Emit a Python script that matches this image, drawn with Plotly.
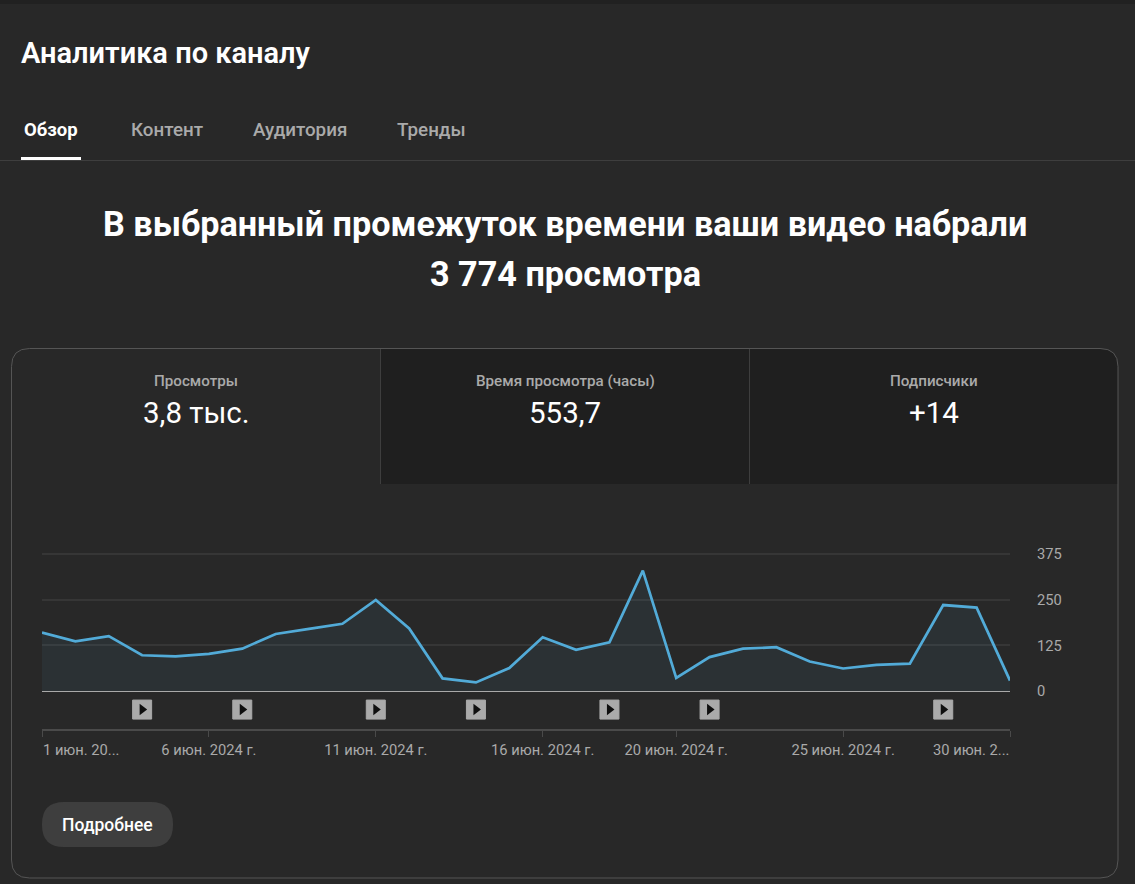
import plotly.graph_objects as go

# --- data ---
DATES = [f"2024-06-{d:02d}" for d in range(1, 31)]
VIEWS = [160, 136, 150, 98, 95, 102, 116, 156, 170, 184,
         249, 171, 35, 24, 63, 147, 113, 133, 329, 36,
         93, 116, 120, 81, 62, 72, 75, 235, 228, 29]
VIDEO_DATES = ["2024-06-04", "2024-06-07", "2024-06-11", "2024-06-14",
               "2024-06-18", "2024-06-21", "2024-06-28"]
Y_TICKS = [0, 125, 250, 375]
X_TICKS = ["2024-06-01", "2024-06-06", "2024-06-11", "2024-06-16",
           "2024-06-20", "2024-06-25", "2024-06-30"]
X_LABELS = ["", "6 июн. 2024 г.", "11 июн. 2024 г.", "16 июн. 2024 г.",
            "20 июн. 2024 г.", "25 июн. 2024 г.", ""]
TABS = ["Контент", "Аудитория", "Тренды"]
TAB_X = [167, 300, 431.5]
CARD_LABELS = ["Просмотры", "Время просмотра (часы)", "Подписчики"]
CARD_VALUES = ["3,8 тыс.", "553,7", "+14"]
CARD_X = [196, 565, 934]

W, H = 1135, 884
BG = "#282828"
LINE = "#52ABD8"
FONT = "Roboto"


def px(x):
    return x / W


def py(y):
    return 1 - y / H


def label(text, x, y, size, color="#ffffff", weight=400, xanchor="center"):
    fig.add_annotation(
        text=text, x=px(x), y=py(y), xref="paper", yref="paper",
        xanchor=xanchor, yanchor="middle", showarrow=False, borderpad=0,
        font=dict(family=FONT, size=size, color=color, weight=weight),
    )


def rect(x0, y0, x1, y1, fill, line=None):
    fig.add_shape(
        type="rect", xref="paper", yref="paper", layer="below",
        x0=px(x0), x1=px(x1), y0=py(y0), y1=py(y1),
        fillcolor=fill, line=dict(width=1 if line else 0, color=line or fill),
    )


def path(d, fill, line=None):
    fig.add_shape(
        type="path", xref="paper", yref="paper", layer="below", path=d,
        fillcolor=fill, line=dict(width=1 if line else 0, color=line or fill),
    )


def round_path(x0, y0, x1, y1, tl, tr, br, bl):
    # corners drawn with quadratic curves, radii in pixels
    pts = [
        f"M {px(x0 + tl)} {py(y0)}", f"L {px(x1 - tr)} {py(y0)}",
        f"Q {px(x1)} {py(y0)} {px(x1)} {py(y0 + tr)}", f"L {px(x1)} {py(y1 - br)}",
        f"Q {px(x1)} {py(y1)} {px(x1 - br)} {py(y1)}", f"L {px(x0 + bl)} {py(y1)}",
        f"Q {px(x0)} {py(y1)} {px(x0)} {py(y1 - bl)}", f"L {px(x0)} {py(y0 + tl)}",
        f"Q {px(x0)} {py(y0)} {px(x0 + tl)} {py(y0)} Z",
    ]
    return " ".join(pts)


fig = go.Figure()

# --- the chart ---
fig.add_trace(go.Scatter(
    x=DATES, y=VIEWS, mode="lines", fill="tozeroy",
    fillcolor="rgba(82,171,216,0.07)", line=dict(color=LINE, width=2.7),
    hoverinfo="skip", xaxis="x", yaxis="y",
))

# video markers live in a strip of their own below the chart
fig.add_trace(go.Scatter(
    x=VIDEO_DATES, y=[0] * len(VIDEO_DATES), mode="markers",
    marker=dict(symbol="square", size=19, color="#aaaaaa",
                line=dict(width=1, color="#aaaaaa")),
    hoverinfo="skip", xaxis="x2", yaxis="y2",
))
fig.add_trace(go.Scatter(
    x=VIDEO_DATES, y=[0] * len(VIDEO_DATES), mode="markers",
    marker=dict(symbol="triangle-right", size=10, color="#0f0f0f"),
    hoverinfo="skip", xaxis="x2", yaxis="y2",
))

# --- page furniture ---
rect(0, 0, W, 4, "#212121")
rect(0, 160, W, 161, "#3e3e3e")
rect(21, 157, 81, 160, "#ffffff")

path(round_path(381, 349, 1118, 484, 0, 18, 0, 0), "#1f1f1f")
path(round_path(11.5, 348.5, 1118, 878, 18, 18, 18, 18), "rgba(0,0,0,0)", "#555555")
rect(380, 349, 381, 484, "#3e3e3e")
rect(749, 349, 750, 484, "#3e3e3e")
path(round_path(42, 802, 173, 847, 22, 22, 22, 22), "#3e3e3e")

label("Аналитика по каналу", 20, 53, 29, weight=600, xanchor="left")
label("Обзор", 51, 130, 18.5, weight=700)
for name, x in zip(TABS, TAB_X):
    label(name, x, 130, 18.8, color="#aaaaaa", weight=500)

label("В выбранный промежуток времени ваши видео набрали", 565, 224, 34.2, weight=700)
label("3 774 просмотра", 565, 274, 34.2, weight=700)

for name, value, x in zip(CARD_LABELS, CARD_VALUES, CARD_X):
    label(name, x, 381, 15.2, color="#aaaaaa", weight=500)
    label(value, x, 413, 29.5)

label("Подробнее", 107.5, 825, 17.5, weight=500)

# first and last date labels hang inside the axis ends
fig.add_annotation(
    text="1 июн. 20...", x=DATES[0], y=py(750), xref="x", yref="paper",
    xanchor="left", yanchor="middle", showarrow=False, borderpad=0,
    font=dict(family=FONT, size=14.7, color="#aaaaaa"),
)
fig.add_annotation(
    text="30 июн. 2...", x=DATES[-1], y=py(750), xref="x", yref="paper",
    xanchor="right", yanchor="middle", showarrow=False, borderpad=0,
    font=dict(family=FONT, size=14.7, color="#aaaaaa"),
)

fig.update_layout(
    width=W, height=H,
    margin=dict(l=0, r=0, t=0, b=0, autoexpand=False),
    paper_bgcolor=BG, plot_bgcolor="rgba(0,0,0,0)",
    showlegend=False,
    font=dict(family=FONT, size=14.7, color="#aaaaaa"),
    xaxis=dict(
        domain=[px(42), px(1010)], range=[DATES[0], DATES[-1]], type="date",
        showgrid=False, showticklabels=False, ticks="", showline=False, zeroline=False,
        anchor="y",
    ),
    # range runs past 375 because plotly drops gridlines within 1px of the axis end
    yaxis=dict(
        domain=[py(691.2), py(551.5)], range=[0, 381], side="right",
        tickvals=Y_TICKS, ticks="outside", ticklen=23, tickcolor="rgba(0,0,0,0)",
        gridcolor="#363636", gridwidth=2, zeroline=True, zerolinecolor="#aaaaaa",
        zerolinewidth=1, showline=False, anchor="x",
        tickfont=dict(family=FONT, size=14.7, color="#aaaaaa"),
    ),
    xaxis2=dict(
        domain=[px(42), px(1010)], range=[DATES[0], DATES[-1]], type="date",
        tickvals=X_TICKS, ticktext=X_LABELS, ticks="outside", ticklen=6, tickwidth=1,
        tickcolor="#4a4a4a", showgrid=False, zeroline=False,
        showline=True, linecolor="#4a4a4a", linewidth=2, anchor="y2",
        tickfont=dict(family=FONT, size=14.7, color="#aaaaaa"), tickangle=0,
    ),
    yaxis2=dict(
        domain=[py(729), py(692)], range=[-1.05, 0.95], visible=False,
        anchor="x2",
    ),
)

fig.write_html("out.html", config=dict(displayModeBar=False),
               post_script="document.body.style.margin='0';")
